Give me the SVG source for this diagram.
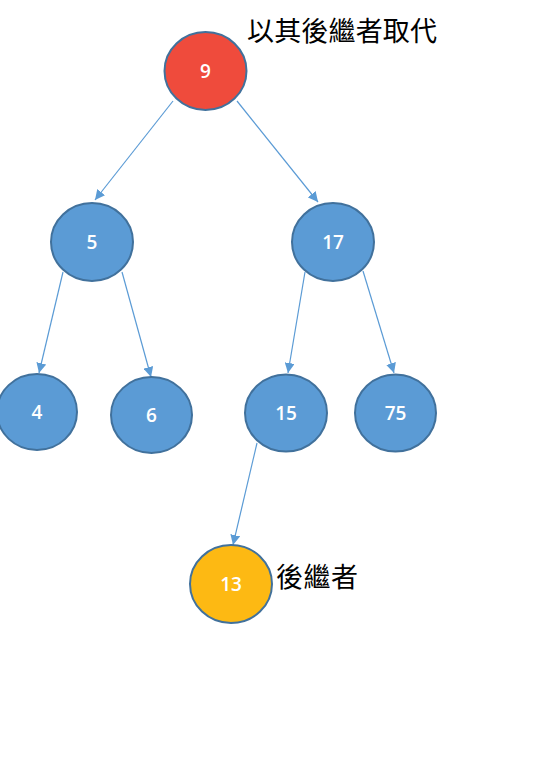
<svg xmlns="http://www.w3.org/2000/svg" width="558" height="784" viewBox="0 0 558 784">
<defs>
<marker id="arr" viewBox="0 0 10 10" refX="10" refY="5" markerWidth="10" markerHeight="10" markerUnits="userSpaceOnUse" orient="auto">
<path d="M0,0 L10,5 L0,10 Z" fill="#5B9BD5"/>
</marker>
<style>
.n{fill:#5B9BD5;stroke:#41719C;stroke-width:2}
.r{fill:#EF4B3C;stroke:#41719C;stroke-width:2}
.y{fill:#FDB913;stroke:#41719C;stroke-width:2}
.t{font-family:"Open Sans","Liberation Sans",sans-serif;font-size:19px;font-weight:600;fill:#fff;text-anchor:middle;dominant-baseline:central}
.c{stroke:#5B9BD5;stroke-width:1.2;fill:none;marker-end:url(#arr)}
.lbl{font-family:"Noto Sans CJK TC","Noto Sans CJK SC",sans-serif;font-size:27px;fill:#000}
</style>
</defs>
<rect width="558" height="784" fill="#fff"/>
<g id="connectors">
<line class="c" x1="173" y1="101" x2="95" y2="200"/>
<line class="c" x1="237" y1="101" x2="318" y2="202"/>
<line class="c" x1="63" y1="272" x2="39" y2="373"/>
<line class="c" x1="122" y1="272" x2="151" y2="377"/>
<line class="c" x1="305" y1="272" x2="288" y2="373"/>
<line class="c" x1="363" y1="271" x2="394" y2="373"/>
<line class="c" x1="257" y1="443" x2="233" y2="545"/>
</g>
<g id="n9"><ellipse class="r" cx="205.5" cy="71" rx="41" ry="39"/><text class="t" x="205.5" y="71">9</text></g>
<g id="n5"><ellipse class="n" cx="92" cy="242" rx="41" ry="39"/><text class="t" x="92" y="242">5</text></g>
<g id="n17"><ellipse class="n" cx="333" cy="242" rx="41" ry="39"/><text class="t" x="333" y="242">17</text></g>
<g id="n4"><ellipse class="n" cx="37" cy="412" rx="40" ry="38"/><text class="t" x="37" y="412">4</text></g>
<g id="n6"><ellipse class="n" cx="151.5" cy="415" rx="40.5" ry="38"/><text class="t" x="151.5" y="415">6</text></g>
<g id="n15"><ellipse class="n" cx="286" cy="413" rx="41" ry="38.5"/><text class="t" x="286" y="413">15</text></g>
<g id="n75"><ellipse class="n" cx="395.5" cy="413" rx="40.5" ry="38.5"/><text class="t" x="395.5" y="413">75</text></g>
<g id="n13"><ellipse class="y" cx="231" cy="584" rx="41" ry="39"/><text class="t" x="231" y="584">13</text></g>
<g id="labels">
<text class="lbl" x="247" y="41" textLength="190">以其後繼者取代</text>
<text class="lbl" x="276" y="587" textLength="82">後繼者</text>
</g>
</svg>
